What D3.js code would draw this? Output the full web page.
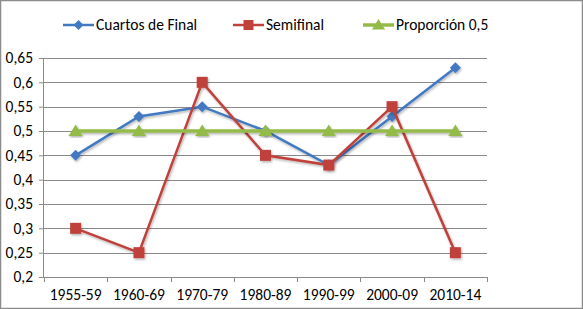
<!DOCTYPE html>
<html>
<head>
<meta charset="utf-8">
<script src="https://cdn.jsdelivr.net/npm/d3@7"></script>
<style>
  body { margin: 0; background: #fff; }
  svg text { font-family: Carlito, "Liberation Sans", Arial, sans-serif; fill: #000; }
</style>
</head>
<body>
<div id="chart"></div>
<script>
// data
var periods = ["1955-59", "1960-69", "1970-79", "1980-89", "1990-99", "2000-09", "2010-14"];
var cuartos = [0.45, 0.53, 0.55, 0.50, 0.43, 0.53, 0.63];
var semifinal = [0.30, 0.25, 0.60, 0.45, 0.43, 0.55, 0.25];
var proporcion = [0.5, 0.5, 0.5, 0.5, 0.5, 0.5, 0.5];
var yTicks = [0.2, 0.25, 0.3, 0.35, 0.4, 0.45, 0.5, 0.55, 0.6, 0.65];

var series = [
  { name: "Cuartos de Final", values: cuartos, color: "#4279c1", marker: "diamond", width: 2.5 },
  { name: "Semifinal", values: semifinal, color: "#c0413b", marker: "square", width: 2.5 },
  { name: "Proporción 0,5", values: proporcion, color: "#94bb4a", marker: "triangle", width: 3.5 }
];

var W = 583, H = 309;
var margin = { top: 58, right: 96, bottom: 32, left: 44 };
var width = W - margin.left - margin.right;
var height = H - margin.top - margin.bottom;
var fontSize = "15.5px";

var svg = d3.select("#chart").append("svg")
  .attr("width", W)
  .attr("height", H);

// outer border
svg.append("rect")
  .attr("x", 0.5).attr("y", 0.5)
  .attr("width", W - 1).attr("height", H - 1)
  .attr("fill", "#fff")
  .attr("stroke", "#8c8c8c")
  .attr("stroke-width", 1.5);

var g = svg.append("g")
  .attr("transform", "translate(" + margin.left + "," + margin.top + ")");

var x = d3.scaleBand()
  .domain(periods)
  .range([0, width]);

var y = d3.scaleLinear()
  .domain([0.2, 0.65])
  .range([height, 0]);

// horizontal gridlines
g.selectAll("line.grid")
  .data(yTicks.slice(1))
  .enter()
  .append("line")
  .attr("class", "grid")
  .attr("x1", 0)
  .attr("x2", width)
  .attr("y1", function (d) { return Math.round(y(d)) + 0.5; })
  .attr("y2", function (d) { return Math.round(y(d)) + 0.5; })
  .attr("stroke", "#8a8a8a")
  .attr("stroke-width", 1);

// y axis
var yAxis = g.append("g")
  .call(d3.axisLeft(y)
    .tickValues(yTicks)
    .tickSize(5)
    .tickPadding(6)
    .tickFormat(function (d) { return d3.format(".2~f")(d).replace(".", ","); }));
yAxis.select(".domain").attr("stroke", "#8a8a8a").attr("d", "M-0.5,0V" + height);
yAxis.selectAll(".tick line").attr("stroke", "#8a8a8a");
yAxis.selectAll(".tick text").style("font-size", fontSize);

// x axis
var xAxis = g.append("g")
  .attr("transform", "translate(0," + height + ")")
  .call(d3.axisBottom(x).tickSize(0).tickPadding(12));
xAxis.select(".domain").attr("stroke", "#8a8a8a").attr("d", "M0,0.5H" + width);
xAxis.selectAll(".tick text").style("font-size", fontSize);
g.append("g")
  .selectAll("line")
  .data(periods.concat(["end"]))
  .enter()
  .append("line")
  .attr("x1", function (d, i) { return Math.round(i * x.bandwidth()) + 0.5; })
  .attr("x2", function (d, i) { return Math.round(i * x.bandwidth()) + 0.5; })
  .attr("y1", height)
  .attr("y2", height + 5)
  .attr("stroke", "#8a8a8a");

// soft shadow like the office chart
var defs = svg.append("defs");
var f = defs.append("filter").attr("id", "shadow")
  .attr("x", "-10%").attr("y", "-10%").attr("width", "120%").attr("height", "120%");
f.append("feDropShadow").attr("dx", 1).attr("dy", 1.5).attr("stdDeviation", 1)
  .attr("flood-color", "#000").attr("flood-opacity", 0.3);

var symbolFor = {
  diamond: function (s) { return "M0," + (-s) + "L" + s + ",0L0," + s + "L" + (-s) + ",0Z"; },
  square: function (s) { return "M" + (-s) + "," + (-s) + "H" + s + "V" + s + "H" + (-s) + "Z"; },
  triangle: function (s) { return "M0," + (-s) + "L" + (s * 1.1) + "," + (s * 0.75) + "H" + (-s * 1.1) + "Z"; }
};
var sizeFor = { diamond: 5.5, square: 5.5, triangle: 6.5 };

var line = d3.line()
  .x(function (d, i) { return x(periods[i]) + x.bandwidth() / 2; })
  .y(function (d) { return y(d); });

// each series in its own group so the shadow filter has a real box
series.forEach(function (s) {
  var sg = g.append("g").attr("filter", "url(#shadow)");
  sg.append("path")
    .datum(s.values)
    .attr("fill", "none")
    .attr("stroke", s.color)
    .attr("stroke-width", s.width)
    .attr("d", line);
  sg.selectAll(null)
    .data(s.values)
    .enter()
    .append("path")
    .attr("transform", function (d, i) {
      return "translate(" + (x(periods[i]) + x.bandwidth() / 2) + "," + y(d) + ")";
    })
    .attr("d", symbolFor[s.marker](sizeFor[s.marker]))
    .attr("fill", s.color);
});

// legend
var legendX = [63, 233, 363];
var legend = svg.append("g").attr("transform", "translate(0,25)");
series.forEach(function (s, i) {
  var lg = legend.append("g").attr("transform", "translate(" + legendX[i] + ",0)");
  lg.append("line")
    .attr("x1", 0).attr("x2", 31)
    .attr("stroke", s.color)
    .attr("stroke-width", s.width);
  lg.append("path")
    .attr("transform", "translate(15.5,0)")
    .attr("d", symbolFor[s.marker](sizeFor[s.marker] - 0.5))
    .attr("fill", s.color);
  lg.append("text")
    .attr("x", 33)
    .attr("dy", "0.35em")
    .style("font-size", fontSize)
    .text(s.name);
});
</script>
</body>
</html>
